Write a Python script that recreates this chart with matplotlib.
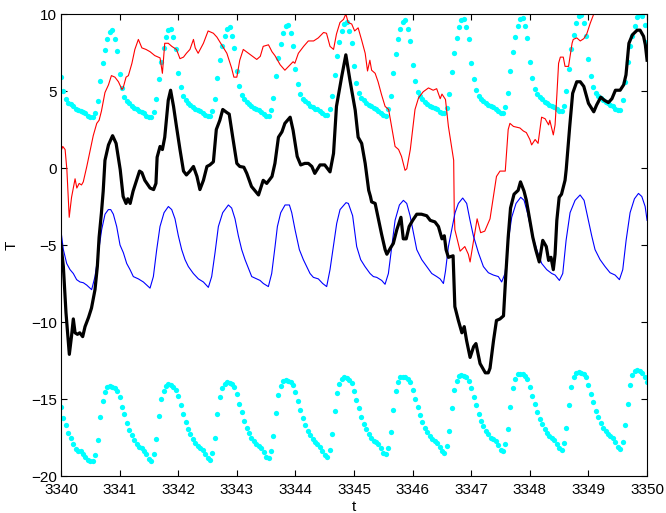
import matplotlib
matplotlib.use('Agg')
import matplotlib.pyplot as plt
from matplotlib import rc
font = {'family': ['Liberation Sans', 'DejaVu Sans'],
        'size': 11}
rc('font', **font)
import numpy as np

# red trace
red_t = [3340.00, 3340.03, 3340.07, 3340.10, 3340.14, 3340.18, 3340.24, 3340.27, 3340.31, 3340.35,
         3340.38, 3340.44, 3340.50, 3340.55, 3340.61, 3340.65, 3340.69, 3340.75, 3340.81, 3340.86,
         3340.92, 3340.98, 3341.04, 3341.06, 3341.11, 3341.15, 3341.21, 3341.26, 3341.32, 3341.38,
         3341.45, 3341.52, 3341.60, 3341.69, 3341.73, 3341.77, 3341.83, 3341.89, 3341.97, 3342.03,
         3342.09, 3342.14, 3342.20, 3342.26, 3342.29, 3342.34, 3342.43, 3342.51, 3342.60, 3342.66,
         3342.74, 3342.83, 3342.91, 3342.95, 3343.00, 3343.05, 3343.11, 3343.25, 3343.34, 3343.40,
         3343.45, 3343.54, 3343.60, 3343.65, 3343.74, 3343.82, 3343.91, 3343.96, 3343.99, 3344.05,
         3344.14, 3344.22, 3344.31, 3344.39, 3344.48, 3344.53, 3344.59, 3344.65, 3344.70, 3344.76,
         3344.82, 3344.86, 3344.90, 3344.96, 3345.01, 3345.07, 3345.13, 3345.19, 3345.23, 3345.27,
         3345.30, 3345.36, 3345.41, 3345.47, 3345.53, 3345.59, 3345.64, 3345.70, 3345.76, 3345.81,
         3345.87, 3345.90, 3345.96, 3346.00, 3346.04, 3346.10, 3346.18, 3346.27, 3346.35, 3346.41,
         3346.47, 3346.50, 3346.56, 3346.61, 3346.70, 3346.71, 3346.72, 3346.81, 3346.89, 3346.95,
         3346.98, 3347.10, 3347.16, 3347.23, 3347.32, 3347.38, 3347.43, 3347.49, 3347.58, 3347.63,
         3347.66, 3347.72, 3347.83, 3347.89, 3347.94, 3348.00, 3348.03, 3348.09, 3348.14, 3348.20,
         3348.26, 3348.32, 3348.34, 3348.40, 3348.43, 3348.46, 3348.49, 3348.52, 3348.57, 3348.60,
         3348.66, 3348.72, 3348.74, 3348.80, 3348.86, 3348.92, 3348.97, 3349.03, 3349.09, 3349.30,
         3350.00]
red_T = [1.1, 1.4, 1.2, -0.1, -3.2, -1.9, -0.7, -1.3, -1.0, -1.1,
         -0.9, 0.1, 1.2, 2.1, 2.9, 3.1, 3.7, 4.9, 5.4, 6.0,
         5.9, 5.6, 5.1, 5.2, 5.9, 6.0, 6.8, 7.7, 8.35, 7.8,
         7.7, 7.55, 7.3, 7.15, 6.15, 8.1, 8.1, 7.9, 7.7, 7.1,
         7.2, 7.45, 7.7, 8.35, 7.8, 7.45, 8.1, 8.9, 8.75, 8.5,
         8.0, 7.45, 6.5, 5.9, 5.9, 7.0, 7.7, 7.3, 7.05, 7.25,
         7.9, 8.0, 7.55, 7.3, 6.7, 6.35, 6.7, 6.9, 6.8, 7.45,
         7.9, 8.25, 8.25, 8.45, 8.8, 8.75, 7.9, 7.7, 8.7, 9.45,
         9.65, 10.0, 9.45, 9.35, 8.9, 9.1, 8.3, 7.45, 6.3, 7.0,
         6.35, 6.15, 5.6, 4.75, 4.0, 3.8, 2.7, 1.4, 1.2, 0.75,
         -0.15, -0.05, 1.2, 2.5, 3.8, 4.55, 4.95, 5.2, 5.05, 5.15,
         4.5, 4.8, 4.45, 2.7, 0.5, -2.9, -4.0, -5.4, -5.1, -5.6,
         -6.1, -3.3, -4.2, -4.1, -3.3, -1.8, -0.55, -0.2, -0.2, 2.5,
         2.9, 2.7, 2.6, 2.4, 2.3, 1.85, 1.5, 1.85, 1.6, 3.3,
         3.2, 2.8, 3.1, 2.15, 2.8, 4.7, 6.8, 7.2, 7.2, 6.6,
         6.6, 8.1, 8.35, 8.45, 8.25, 8.4, 8.7, 9.4, 10.0, 11.0,
         12.0]

# black trace
black_t = [3340.00, 3340.04, 3340.085, 3340.142, 3340.18, 3340.21, 3340.24, 3340.28, 3340.32, 3340.37,
           3340.41, 3340.47, 3340.52, 3340.58, 3340.62, 3340.65, 3340.69, 3340.72, 3340.75, 3340.81,
           3340.88, 3340.94, 3341.01, 3341.06, 3341.11, 3341.14, 3341.18, 3341.23, 3341.29, 3341.34,
           3341.38, 3341.43, 3341.52, 3341.58, 3341.62, 3341.64, 3341.69, 3341.73, 3341.77, 3341.83,
           3341.87, 3341.92, 3341.97, 3342.03, 3342.09, 3342.14, 3342.20, 3342.26, 3342.32, 3342.37,
           3342.43, 3342.49, 3342.54, 3342.60, 3342.65, 3342.71, 3342.76, 3342.83, 3342.87, 3342.93,
           3343.00, 3343.05, 3343.12, 3343.17, 3343.25, 3343.37, 3343.45, 3343.51, 3343.60, 3343.65,
           3343.71, 3343.77, 3343.82, 3343.91, 3343.96, 3344.03, 3344.09, 3344.16, 3344.22, 3344.28,
           3344.33, 3344.42, 3344.50, 3344.59, 3344.65, 3344.70, 3344.79, 3344.86, 3344.93, 3345.02,
           3345.07, 3345.13, 3345.19, 3345.25, 3345.28, 3345.30, 3345.36, 3345.41, 3345.47, 3345.53,
           3345.56, 3345.62, 3345.67, 3345.73, 3345.80, 3345.84, 3345.89, 3345.94, 3346.00, 3346.07,
           3346.15, 3346.24, 3346.30, 3346.38, 3346.44, 3346.50, 3346.54, 3346.57, 3346.61, 3346.69,
           3346.72, 3346.78, 3346.84, 3346.88, 3346.92, 3346.98, 3347.04, 3347.08, 3347.15, 3347.24,
           3347.29, 3347.32, 3347.38, 3347.43, 3347.49, 3347.55, 3347.59, 3347.63, 3347.67, 3347.73,
           3347.80, 3347.84, 3347.90, 3347.94, 3348.00, 3348.05, 3348.10, 3348.16, 3348.22, 3348.28,
           3348.32, 3348.36, 3348.40, 3348.43, 3348.46, 3348.50, 3348.54, 3348.60, 3348.62, 3348.68,
           3348.73, 3348.80, 3348.86, 3348.92, 3349.00, 3349.09, 3349.14, 3349.21, 3349.27, 3349.34,
           3349.40, 3349.46, 3349.54, 3349.60, 3349.64, 3349.69, 3349.75, 3349.83, 3349.88, 3349.94,
           3349.97, 3350.00]
black_T = [-5.0, -6.4, -9.4, -12.1, -10.9, -9.8, -10.7, -10.8, -10.7, -10.95,
           -10.3, -9.7, -9.1, -7.9, -6.4, -4.5, -2.9, -1.5, 0.5, 1.5,
           2.1, 1.6, -0.1, -1.85, -2.3, -2.0, -2.3, -1.5, -0.8, -0.2,
           -0.3, -0.8, -1.3, -1.4, -1.0, 0.7, 1.4, 1.2, 2.0, 4.4,
           5.05, 4.0, 2.7, 1.2, -0.2, -0.45, -0.2, 0.1, -0.55, -1.4,
           -0.8, 0.1, 0.2, 0.4, 2.5, 3.1, 3.8, 3.6, 3.5, 2.0,
           0.3, 0.1, 0.05, -0.35, -1.2, -1.75, -0.8, -1.0, -0.55, 0.3,
           2.0, 2.35, 2.9, 3.3, 2.45, 0.75, 0.2, 0.3, 0.3, 0.1,
           -0.35, 0.2, 0.2, -0.25, 0.95, 4.0, 5.95, 7.35, 5.7, 3.75,
           2.0, 1.6, 0.3, -1.45, -1.85, -2.2, -2.3, -3.2, -4.3, -5.3,
           -5.6, -5.2, -4.9, -4.0, -3.2, -4.6, -4.6, -3.8, -3.4, -3.0,
           -3.0, -3.1, -3.4, -3.5, -3.8, -4.6, -4.4, -5.3, -5.8, -5.7,
           -9.0, -9.9, -10.7, -10.3, -11.2, -12.3, -11.6, -11.4, -12.7, -13.3,
           -13.3, -13.0, -11.2, -9.9, -9.8, -9.6, -6.9, -4.5, -2.6, -1.7,
           -1.45, -0.9, -1.5, -2.1, -3.4, -4.5, -5.3, -6.1, -4.7, -5.1,
           -6.0, -5.8, -6.6, -5.6, -3.4, -1.9, -1.7, -0.8, -0.1, 2.7,
           4.85, 5.6, 5.6, 5.3, 4.2, 3.65, 4.1, 4.6, 4.4, 4.25,
           4.5, 5.05, 5.05, 5.4, 6.05, 8.1, 8.65, 8.95, 8.95, 8.55,
           8.0, 7.0]

# blue trace
blue_t = [3340.000, 3340.040, 3340.097, 3340.154, 3340.210, 3340.267, 3340.324, 3340.381, 3340.438, 3340.495,
          3340.523, 3340.580, 3340.637, 3340.694, 3340.751, 3340.808, 3340.848, 3340.893, 3340.950, 3341.007,
          3341.064, 3341.121, 3341.178, 3341.234, 3341.320, 3341.405, 3341.462, 3341.519, 3341.576, 3341.633,
          3341.689, 3341.758, 3341.832, 3341.889, 3341.945, 3342.002, 3342.059, 3342.116, 3342.173, 3342.258,
          3342.344, 3342.429, 3342.514, 3342.571, 3342.628, 3342.685, 3342.759, 3342.856, 3342.912, 3342.969,
          3343.026, 3343.083, 3343.140, 3343.254, 3343.339, 3343.396, 3343.453, 3343.538, 3343.595, 3343.652,
          3343.692, 3343.749, 3343.823, 3343.897, 3343.937, 3343.993, 3344.067, 3344.135, 3344.192, 3344.249,
          3344.306, 3344.391, 3344.465, 3344.533, 3344.590, 3344.647, 3344.704, 3344.761, 3344.863, 3344.903,
          3344.976, 3345.045, 3345.113, 3345.187, 3345.273, 3345.330, 3345.387, 3345.472, 3345.529, 3345.586,
          3345.643, 3345.700, 3345.774, 3345.842, 3345.899, 3345.956, 3346.002, 3346.070, 3346.155, 3346.240,
          3346.326, 3346.411, 3346.468, 3346.525, 3346.560, 3346.610, 3346.667, 3346.724, 3346.780, 3346.854,
          3346.922, 3346.979, 3347.036, 3347.122, 3347.207, 3347.292, 3347.377, 3347.462, 3347.519, 3347.576,
          3347.633, 3347.690, 3347.764, 3347.844, 3347.901, 3347.958, 3348.032, 3348.117, 3348.202, 3348.288,
          3348.373, 3348.430, 3348.504, 3348.561, 3348.618, 3348.686, 3348.771, 3348.857, 3348.925, 3348.982,
          3349.055, 3349.112, 3349.198, 3349.283, 3349.368, 3349.454, 3349.528, 3349.585, 3349.642, 3349.710,
          3349.784, 3349.853, 3349.910, 3349.967, 3350.000]
blue_T = [-4.1, -5.3, -6.2, -6.6, -6.85, -7.25, -7.4, -7.45, -7.6, -7.8,
          -7.9, -7.05, -5.5, -4.0, -3.0, -2.7, -2.7, -3.0, -3.8, -5.0,
          -5.5, -6.2, -6.6, -7.05, -7.2, -7.4, -7.6, -7.8, -7.05, -5.3,
          -3.8, -2.9, -2.5, -2.7, -3.3, -4.4, -5.3, -5.95, -6.4, -6.85,
          -7.2, -7.4, -7.75, -7.05, -5.5, -3.8, -2.9, -2.4, -2.6, -3.3,
          -4.4, -5.3, -5.95, -7.05, -7.2, -7.3, -7.5, -7.7, -6.85, -5.1,
          -3.8, -2.9, -2.4, -2.4, -2.9, -4.0, -5.3, -5.95, -6.4, -6.85,
          -7.1, -7.2, -7.5, -7.7, -6.6, -5.1, -3.6, -2.7, -2.25, -2.3,
          -3.1, -5.1, -5.95, -6.4, -6.85, -7.05, -7.1, -7.3, -7.55, -6.85,
          -5.1, -3.4, -2.4, -2.1, -2.3, -3.1, -4.0, -5.3, -5.95, -6.4,
          -6.85, -7.05, -7.2, -7.5, -6.7, -5.1, -4.0, -2.9, -2.3, -1.95,
          -2.3, -3.4, -4.4, -5.5, -6.4, -6.8, -6.95, -7.05, -7.4, -6.85,
          -4.7, -3.2, -2.3, -1.9, -2.1, -2.9, -4.2, -5.3, -6.2, -6.6,
          -6.85, -6.95, -7.3, -6.85, -4.7, -2.9, -2.1, -1.75, -2.1, -3.1,
          -4.4, -5.3, -5.95, -6.4, -6.8, -6.95, -7.25, -6.6, -4.7, -2.9,
          -2.0, -1.65, -1.85, -2.5, -3.4]

# cyan dots, hourly, upper band (one row per day)
upper_T = [
    [5.9, 5.0, 4.45, 4.25, 4.15, 4.0, 3.85, 3.75, 3.7, 3.65, 3.55, 3.4, 3.3, 3.3, 3.6, 4.35, 5.65, 6.8, 7.65, 8.35, 8.8, 8.95, 8.4, 7.6],
    [6.1, 5.2, 4.6, 4.35, 4.2, 4.05, 3.9, 3.8, 3.7, 3.65, 3.55, 3.4, 3.3, 3.3, 3.65, 4.45, 5.75, 6.9, 7.8, 8.5, 8.95, 9.05, 8.5, 7.7],
    [6.2, 5.25, 4.65, 4.4, 4.25, 4.1, 3.95, 3.85, 3.75, 3.7, 3.6, 3.45, 3.35, 3.35, 3.7, 4.5, 5.85, 7.0, 7.9, 8.6, 9.05, 9.15, 8.6, 7.8],
    [6.3, 5.35, 4.75, 4.45, 4.3, 4.15, 4.0, 3.9, 3.8, 3.75, 3.65, 3.5, 3.4, 3.4, 3.75, 4.55, 5.95, 7.15, 8.05, 8.75, 9.2, 9.3, 8.75, 7.95],
    [6.45, 5.45, 4.8, 4.5, 4.35, 4.2, 4.05, 3.95, 3.85, 3.8, 3.7, 3.55, 3.45, 3.45, 3.8, 4.65, 6.05, 7.3, 8.2, 8.9, 9.35, 9.45, 8.9, 8.1],
    [6.6, 5.55, 4.85, 4.55, 4.4, 4.25, 4.1, 4.0, 3.9, 3.8, 3.7, 3.55, 3.45, 3.4, 3.8, 4.7, 6.15, 7.4, 8.35, 9.05, 9.5, 9.6, 9.05, 8.25],
    [6.7, 5.65, 4.95, 4.65, 4.45, 4.3, 4.15, 4.05, 3.95, 3.9, 3.8, 3.65, 3.55, 3.55, 3.9, 4.8, 6.25, 7.5, 8.45, 9.15, 9.6, 9.7, 9.15, 8.35],
    [6.8, 5.75, 5.05, 4.7, 4.5, 4.35, 4.2, 4.1, 4.0, 3.95, 3.85, 3.7, 3.6, 3.6, 3.95, 4.85, 6.3, 7.55, 8.5, 9.2, 9.65, 9.75, 9.2, 8.45],
    [6.9, 5.85, 5.15, 4.8, 4.6, 4.45, 4.3, 4.2, 4.1, 4.05, 3.95, 3.8, 3.7, 3.7, 4.05, 5.0, 6.45, 7.7, 8.65, 9.4, 9.85, 9.95, 9.4, 8.6],
    [7.05, 5.95, 5.25, 4.9, 4.7, 4.55, 4.4, 4.3, 4.2, 4.1, 4.0, 3.85, 3.75, 3.75, 4.4, 5.6, 6.9, 7.9, 8.6, 9.25, 9.8, 10.0, 9.9, 9.3],
    [8.2],
]

# cyan dots, hourly, lower band
lower_T = [
    [-15.55, -16.25, -16.7, -17.2, -17.55, -17.95, -18.25, -18.35, -18.4, -18.55, -18.75, -18.95, -19.05, -19.05, -18.65, -17.65, -16.2, -15.1, -14.55, -14.25, -14.15, -14.2, -14.3, -14.5],
    [-14.9, -15.5, -16.0, -16.55, -17.0, -17.35, -17.65, -17.9, -18.1, -18.2, -18.35, -18.6, -18.9, -19.0, -18.6, -17.6, -16.1, -15.0, -14.45, -14.15, -14.05, -14.1, -14.2, -14.4],
    [-14.8, -15.4, -15.95, -16.5, -16.95, -17.3, -17.6, -17.85, -18.05, -18.15, -18.3, -18.55, -18.85, -18.95, -18.5, -17.5, -16.0, -14.9, -14.3, -14.0, -13.9, -13.95, -14.05, -14.25],
    [-14.7, -15.3, -15.85, -16.4, -16.85, -17.2, -17.5, -17.75, -17.95, -18.05, -18.2, -18.45, -18.75, -18.85, -18.4, -17.4, -15.9, -14.75, -14.15, -13.85, -13.75, -13.8, -13.9, -14.1],
    [-14.55, -15.15, -15.7, -16.25, -16.7, -17.05, -17.35, -17.6, -17.8, -17.9, -18.1, -18.35, -18.65, -18.75, -18.3, -17.3, -15.8, -14.6, -14.0, -13.7, -13.6, -13.65, -13.75, -13.95],
    [-14.45, -15.05, -15.6, -16.15, -16.6, -16.95, -17.25, -17.5, -17.7, -17.8, -17.95, -18.2, -18.5, -18.6, -18.15, -17.15, -15.7, -14.5, -13.9, -13.6, -13.55, -13.6, -13.7, -13.9],
    [-14.4, -15.0, -15.5, -16.05, -16.5, -16.85, -17.15, -17.4, -17.6, -17.7, -17.85, -18.1, -18.4, -18.5, -18.05, -17.05, -15.6, -14.4, -13.8, -13.5, -13.45, -13.5, -13.6, -13.8],
    [-14.3, -14.9, -15.4, -15.95, -16.4, -16.75, -17.05, -17.3, -17.5, -17.6, -17.75, -18.0, -18.3, -18.4, -17.95, -16.95, -15.5, -14.3, -13.7, -13.4, -13.35, -13.4, -13.5, -13.7],
    [-14.2, -14.8, -15.3, -15.85, -16.3, -16.65, -16.95, -17.2, -17.4, -17.5, -17.65, -17.9, -18.2, -18.3, -17.85, -16.85, -15.4, -14.2, -13.6, -13.3, -13.25, -13.3, -13.4, -13.6],
    [-14.1, -14.7, -15.2, -15.75, -16.2, -16.55, -16.85, -17.1, -17.3, -17.4, -17.55, -17.8, -18.1, -18.25, -17.8, -16.7, -15.3, -14.1, -13.45, -13.15, -13.1, -13.15, -13.3, -13.6],
    [-13.9],
]

x_ticks = list(range(3340, 3351))
y_ticks = [-20, -15, -10, -5, 0, 5, 10]

upper = np.concatenate(upper_T)
lower = np.concatenate(lower_T)
t_hourly = 3340 + np.arange(len(upper)) / 24.0

fig = plt.figure(figsize=(6.66, 5.13), dpi=100)
ax = fig.add_axes([0.0916, 0.0721, 0.88, 0.9006])

ax.plot(t_hourly, upper, 'o', color='#00ffff', markersize=3.8, markeredgewidth=0)
ax.plot(t_hourly, lower, 'o', color='#00ffff', markersize=3.8, markeredgewidth=0)
ax.plot(red_t, red_T, color='#ff0000', linewidth=0.8)
ax.plot(blue_t, blue_T, color='#0000ff', linewidth=0.8)
ax.plot(black_t, black_T, color='k', linewidth=2.3)

ax.set_xlim(3340, 3350)
ax.set_ylim(-20, 10)
ax.set_xticks(x_ticks)
ax.set_yticks(y_ticks)
ax.tick_params(direction='in', top=True, right=True, length=4.5, width=0.8)
ax.tick_params(axis='x', pad=5)
ax.tick_params(axis='y', pad=3)
for s in ax.spines.values():
    s.set_linewidth(0.8)
ax.set_xlabel('t', labelpad=2)
ax.set_ylabel('T', labelpad=9)

fig.savefig('out.png', dpi=100)
